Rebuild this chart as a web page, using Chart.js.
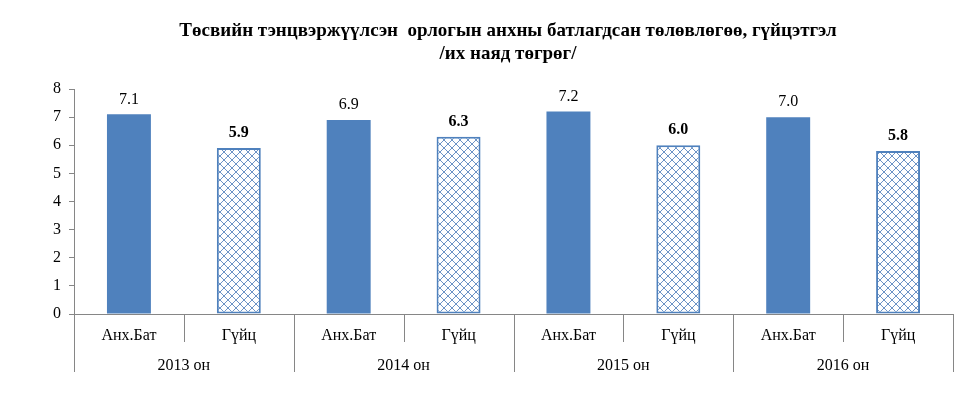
<!DOCTYPE html>
<html>
<head>
<meta charset="utf-8">
<script src="https://cdn.jsdelivr.net/npm/chart.js@4"></script>
<style>
html,body{margin:0;padding:0;background:#fff;}
#wrap{width:979px;height:398px;position:relative;}
</style>
</head>
<body>
<div id="wrap"><canvas id="c" width="979" height="398"></canvas></div>
<script>
const titleLines = ["Төсвийн тэнцвэржүүлсэн  орлогын анхны батлагдсан төлөвлөгөө, гүйцэтгэл", "/их наяд төгрөг/"];
const barLabels = ["Анх.Бат", "Гүйц", "Анх.Бат", "Гүйц", "Анх.Бат", "Гүйц", "Анх.Бат", "Гүйц"];
const yearLabels = ["2013 он", "2014 он", "2015 он", "2016 он"];
const values = [7.1, 5.9, 6.9, 6.3, 7.2, 6.0, 7.0, 5.8];
const yTicks = [0, 1, 2, 3, 4, 5, 6, 7, 8];

const BLUE = '#4F81BD';
const GRAY = '#868686';
const FONT = '"Liberation Serif", "Times New Roman", serif';

function makePattern() {
  const p = document.createElement('canvas');
  p.width = 8; p.height = 8;
  const g = p.getContext('2d');
  g.fillStyle = '#fff';
  g.fillRect(0, 0, 8, 8);
  g.strokeStyle = '#5B87C0';
  g.lineWidth = 0.9;
  g.beginPath();
  g.moveTo(-1, -1); g.lineTo(9, 9);
  g.moveTo(-1, 9); g.lineTo(9, -1);
  g.stroke();
  return g.createPattern(p, 'repeat');
}
const pattern = makePattern();

const bgColors = values.map((v, i) => i % 2 === 0 ? BLUE : pattern);
const borderWidths = values.map((v, i) => i % 2 === 0 ? 0 : 2);

const overlayPlugin = {
  id: 'overlay',
  afterDraw(chart) {
    const ctx = chart.ctx;
    const xs = chart.scales.x;
    const ca = chart.chartArea;
    ctx.save();
    // title
    ctx.fillStyle = '#000';
    ctx.textAlign = 'center';
    ctx.textBaseline = 'middle';
    ctx.font = 'bold 19px ' + FONT;
    ctx.fillText(titleLines[0], 508, 31);
    ctx.fillText(titleLines[1], 508, 54);
    // value labels
    const meta = chart.getDatasetMeta(0);
    meta.data.forEach((bar, i) => {
      ctx.font = (i % 2 === 1 ? 'bold ' : '') + '16px ' + FONT;
      ctx.fillText(values[i].toFixed(1), bar.x, bar.y - 15);
    });
    // category labels & separators
    const w = xs.getPixelForValue(1) - xs.getPixelForValue(0);
    ctx.strokeStyle = GRAY;
    ctx.lineWidth = 1;
    for (let i = 0; i <= barLabels.length; i++) {
      const x = Math.round(xs.getPixelForValue(i) - w / 2) + 0.5;
      const longLine = i % 2 === 0;
      ctx.beginPath();
      ctx.moveTo(x, ca.bottom);
      ctx.lineTo(x, ca.bottom + (longLine ? 58 : 28));
      ctx.stroke();
    }
    ctx.font = '16px ' + FONT;
    barLabels.forEach((lab, i) => {
      ctx.fillText(lab, xs.getPixelForValue(i), ca.bottom + 22);
    });
    yearLabels.forEach((lab, j) => {
      const x = (xs.getPixelForValue(2 * j) + xs.getPixelForValue(2 * j + 1)) / 2;
      ctx.fillText(lab, x, ca.bottom + 52);
    });
    ctx.restore();
  }
};

new Chart(document.getElementById('c'), {
  type: 'bar',
  data: {
    labels: barLabels,
    datasets: [{
      data: values,
      backgroundColor: bgColors,
      borderColor: BLUE,
      borderWidth: borderWidths,
      borderSkipped: false,
      barPercentage: 0.4,
      categoryPercentage: 1.0
    }]
  },
  options: {
    responsive: false,
    animation: false,
    devicePixelRatio: 1,
    layout: { padding: { left: 0, right: 26, top: 89, bottom: 0 } },
    plugins: { legend: { display: false }, tooltip: { enabled: false }, title: { display: false } },
    scales: {
      x: {
        grid: { display: false },
        border: { display: true, color: GRAY, width: 1 },
        ticks: { display: false },
        afterFit(scale) { scale.height = 84; }
      },
      y: {
        min: 0, max: 8,
        afterBuildTicks(scale) { scale.ticks = yTicks.map(v => ({ value: v })); },
        ticks: { color: '#000', font: { family: FONT, size: 16 }, padding: 8 },
        grid: { drawOnChartArea: false, drawTicks: true, tickLength: 5, color: GRAY },
        border: { display: true, color: GRAY, width: 1 },
        afterFit(scale) { scale.width = 74; }
      }
    }
  },
  plugins: [overlayPlugin]
});
</script>
</body>
</html>
